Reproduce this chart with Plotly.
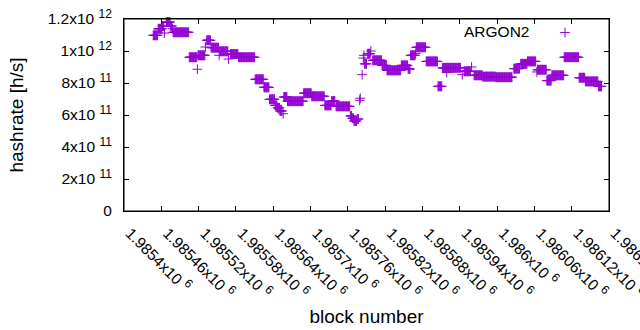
import numpy as np
import plotly.graph_objects as go

# Runs of consecutive blocks that share the same hashrate
run_start = [1985447, 1985455, 1985462, 1985468, 1985475, 1985479, 1985505, 1985519,
             1985533, 1985540, 1985554, 1985571, 1985584, 1985611, 1985625, 1985634,
             1985643, 1985647, 1985651, 1985657, 1985663, 1985689, 1985702, 1985723,
             1985734, 1985741, 1985764, 1985767, 1985770, 1985775, 1985787, 1985792,
             1985800, 1985815, 1985823, 1985846, 1985857, 1985861, 1985870, 1985886,
             1985905, 1985912, 1985947, 1985963, 1985977, 1985998, 1986027, 1986038,
             1986049, 1986065, 1986080, 1986088, 1986108, 1986132, 1986142, 1986163]
run_end = [1985454, 1985461, 1985464, 1985474, 1985477, 1985504, 1985517, 1985530,
           1985539, 1985552, 1985567, 1985583, 1985610, 1985624, 1985633, 1985642,
           1985646, 1985650, 1985654, 1985662, 1985688, 1985701, 1985722, 1985733,
           1985739, 1985763, 1985766, 1985769, 1985774, 1985777, 1985790, 1985796,
           1985814, 1985822, 1985845, 1985856, 1985860, 1985868, 1985885, 1985904,
           1985911, 1985941, 1985957, 1985976, 1985997, 1986024, 1986036, 1986048,
           1986062, 1986079, 1986087, 1986107, 1986131, 1986141, 1986162, 1986168]
run_value = [1.098e12, 1.139e12, 1.156e12, 1.181e12, 1.156e12, 1.117e12, 0.961e12, 0.973e12,
             1.067e12, 1.021e12, 0.998e12, 0.981e12, 0.961e12, 0.823e12, 0.773e12, 0.698e12,
             0.660e12, 0.645e12, 0.625e12, 0.7125e12, 0.686e12, 0.736e12, 0.717e12, 0.660e12,
             0.6875e12, 0.654e12, 0.594e12, 0.580e12, 0.5625e12, 0.575e12, 0.920e12, 0.983e12,
             0.942e12, 0.910e12, 0.879e12, 0.910e12, 0.8875e12, 0.973e12, 1.023e12, 0.935e12,
             0.779e12, 0.895e12, 0.873e12, 0.848e12, 0.840e12, 0.836e12, 0.890e12, 0.920e12,
             0.935e12, 0.883e12, 0.815e12, 0.848e12, 0.961e12, 0.833e12, 0.810e12, 0.779e12]

# Isolated blocks
single_block = [1985465, 1985478, 1985518, 1985531, 1985553, 1985568, 1985656, 1985779,
                1985780, 1985783, 1985785, 1985786, 1985797, 1985869, 1985919, 1985944,
                1985959, 1986064]
single_value = [1.1125e12, 1.139e12, 0.886e12, 1.025e12, 0.973e12, 0.950e12, 0.608e12, 0.692e12,
                0.705e12, 0.852e12, 0.956e12, 0.973e12, 1.000e12, 0.985e12, 0.865e12, 0.852e12,
                0.900e12, 0.869e12]

x_tick_vals = [1985400, 1985460, 1985520, 1985580, 1985640, 1985700, 1985760,
               1985820, 1985880, 1985940, 1986000, 1986060, 1986120, 1986180]
x_tick_mant = ["1.9854", "1.98546", "1.98552", "1.98558", "1.98564", "1.9857", "1.98576",
               "1.98582", "1.98588", "1.98594", "1.986", "1.98606", "1.98612", "1.98618"]
y_tick_vals = [0, 2e11, 4e11, 6e11, 8e11, 1e12, 1.2e12]
y_tick_mant = ["0", "2", "4", "6", "8", "1", "1.2"]
y_tick_exp = ["", "11", "11", "11", "11", "12", "12"]

blocks = []
rates = []
for s, e, v in zip(run_start, run_end, run_value):
    for b in range(s, e + 1):
        blocks.append(b)
        rates.append(v)
blocks += single_block
rates += single_value

COLOR = "#9400d3"
FONT = "Liberation Sans, Arial, sans-serif"
FS = 15.5

def sci(m, e, pad=""):
    if e == "":
        return m
    return f"{pad}{m}x10&nbsp;<sup><span style='font-size:12px'>{e}</span></sup>"

fig = go.Figure()
fig.add_trace(go.Scatter(
    x=blocks, y=rates, mode="markers", name=" ",
    marker=dict(symbol="cross-thin", size=7, color=COLOR,
                line=dict(color=COLOR, width=1)),
    showlegend=True, cliponaxis=False,
))

fig.update_layout(
    width=640, height=330,
    margin=dict(l=124, r=31, t=19, b=119, autoexpand=False),
    paper_bgcolor="white", plot_bgcolor="white",
    font=dict(family=FONT, size=FS, color="black"),
    legend=dict(x=0.868, y=1.0156, xanchor="left", yanchor="top",
                bgcolor="rgba(0,0,0,0)", font=dict(size=FS)),
    annotations=[dict(text="ARGON2", xref="paper", yref="paper", x=0.84, y=0.9375,
                      xanchor="right", yanchor="middle", showarrow=False,
                      font=dict(size=FS, family=FONT))],
    shapes=[dict(type="rect", xref="paper", yref="paper", x0=0, y0=0, x1=1, y1=1,
                 line=dict(color="black", width=1), layer="above")],
)
fig.update_xaxes(
    range=[1985400, 1986180], showgrid=False, zeroline=False, automargin=False,
    showline=True, linecolor="black", linewidth=1, mirror="ticks",
    ticks="inside", ticklen=5, tickcolor="black", ticklabeloverflow="allow",
    tickvals=x_tick_vals, ticktext=[sci(m, "6", "&nbsp;&nbsp;") for m in x_tick_mant],
    tickangle=45, tickfont=dict(size=FS),
    title=dict(text="block number", standoff=8),
)
fig.update_yaxes(
    range=[0, 1.2e12], showgrid=False, zeroline=False, automargin=False,
    showline=True, linecolor="black", linewidth=1, mirror="ticks",
    ticks="inside", ticklen=5, tickcolor="black", ticklabeloverflow="allow",
    ticklabelstandoff=8,
    tickvals=y_tick_vals, ticktext=[sci(m, e) for m, e in zip(y_tick_mant, y_tick_exp)],
    tickfont=dict(size=FS),
    title=dict(text="hashrate [h/s]", standoff=19),
)

fig.write_html("out.html", config={"displayModeBar": False},
               post_script="document.body.style.margin='0';document.body.style.padding='0';")
